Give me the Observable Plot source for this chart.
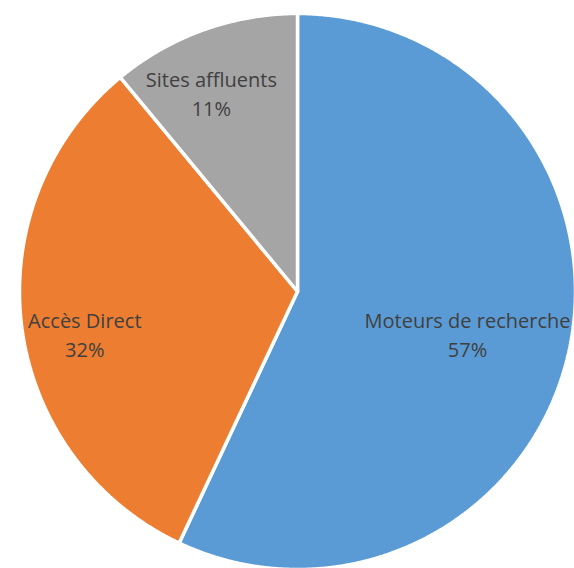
<!DOCTYPE html>
<html>
<head>
<meta charset="utf-8">
<script src="https://cdn.jsdelivr.net/npm/d3@7"></script>
<script src="https://cdn.jsdelivr.net/npm/@observablehq/plot@0.6"></script>
<style>
  html, body { margin: 0; padding: 0; background: #fff; }
  #chart { width: 574px; height: 568px; }
</style>
</head>
<body>
<div id="chart"></div>
<script>
const categories = ["Moteurs de recherche", "Accès Direct", "Sites affluents"];
const values = [57, 32, 11];
const colors = ["#5B9BD5", "#ED7D31", "#A5A5A5"];

// pie layout (start at 12 o'clock, clockwise, in data order)
const pie = d3.pie().sort(null).value(d => d.value);
const arcs = pie(categories.map((c, i) => ({label: c, value: values[i]})));

// slice outlines in unit coordinates (angle measured clockwise from top)
const slicePoints = [];
for (const a of arcs) {
  const lab = a.data.label;
  slicePoints.push({label: lab, x: 0, y: 0});
  const n = Math.max(2, Math.ceil((a.endAngle - a.startAngle) / 0.005));
  for (let k = 0; k <= n; k++) {
    const t = a.startAngle + (a.endAngle - a.startAngle) * k / n;
    slicePoints.push({label: lab, x: Math.sin(t), y: Math.cos(t)});
  }
  slicePoints.push({label: lab, x: 0, y: 0});
}

// label placement (radius fraction and angular nudge per slice, mimicking Excel's best fit)
const labelLayout = {
  "Moteurs de recherche": {r: 0.63, da: 0.023},
  "Accès Direct": {r: 0.78, da: -0.07},
  "Sites affluents": {r: 0.78, da: -0.063}
};
const labels = arcs.map(a => {
  const L = labelLayout[a.data.label];
  const mid = (a.startAngle + a.endAngle) / 2 + L.da;
  return {
    text: `${a.data.label}\n${Math.round(a.data.value)}%`,
    x: Math.sin(mid) * L.r,
    y: Math.cos(mid) * L.r
  };
});

const chart = Plot.plot({
  width: 574,
  height: 568,
  margin: 0,
  x: {domain: [-1, 1], range: [19, 575], axis: null},
  y: {domain: [-1, 1], range: [569, 13], axis: null},
  color: {domain: categories, range: colors},
  style: {background: "#fff", overflow: "visible"},
  marks: [
    Plot.line(slicePoints, {
      x: "x", y: "y", z: "label",
      fill: "label", stroke: "white", strokeWidth: 3.5,
      strokeLinejoin: "miter", curve: "linear"
    }),
    Plot.text(labels, {
      x: "x", y: "y", text: "text",
      fill: "#404040", fontSize: 20, lineHeight: 1.45,
      fontFamily: "'Open Sans', Lato, sans-serif"
    })
  ]
});
document.getElementById("chart").appendChild(chart);
</script>
</body>
</html>
